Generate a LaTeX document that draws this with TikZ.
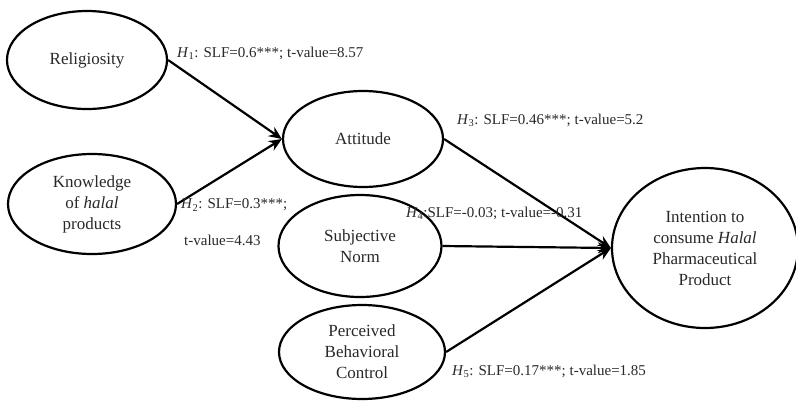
\documentclass[tikz,border=0pt]{standalone}
\usepackage{fontspec}
\setmainfont{Liberation Serif}
\usepackage{xcolor}
\definecolor{txtgray}{RGB}{40,40,40}
\usepackage{tikz}
\usetikzlibrary{shapes.geometric,arrows.meta,positioning}

\begin{document}
\begin{tikzpicture}[x=1pt,y=-1pt,
    construct/.style={ellipse,draw=black,line width=2.2pt,inner sep=0pt,
      align=center,text=txtgray,font=\fontsize{17}{21}\selectfont},
    path/.style={line width=2.2pt,-{Stealth[length=13pt,width=11pt]}},
    slf/.style={anchor=west,inner sep=0pt,text=txtgray,font=\fontsize{15}{18}\selectfont}]
            % Canvas
            \useasboundingbox (0,0) rectangle (796,400);
            % Constructs
            \node[construct,minimum width=160pt,minimum height=98pt] (rel) at (87,60) {Religiosity};
            \node[construct,minimum width=168pt,minimum height=100pt] (know) at (92,204) {Knowledge\\of \textit{halal}\\products};
            \node[construct,minimum width=160pt,minimum height=96pt] (att) at (363,139) {Attitude};
            \node[construct,minimum width=163pt,minimum height=102pt] (sn) at (360,246) {Subjective\\Norm};
            \node[construct,minimum width=166pt,minimum height=94pt] (pbc) at (362,352) {Perceived\\Behavioral\\Control};
            \node[construct,minimum width=186pt,minimum height=160pt] (int) at (705,248) {Intention to\\consume \textit{Halal}\\Pharmaceutical\\Product};
            % Paths
            \draw[path] (rel.east) -- (att.west);
            \draw[path] (know.east) -- (att.west);
            \draw[path] (att.east) -- (int.west);
            \draw[path] (sn.east) -- (int.west);
            \draw[path] (pbc.east) -- (int.west);
            % Estimates
            \node[slf] (h1) at (177,53) {\textit{H}\textsubscript{1}: SLF=0.6***; t-value=8.57};
            \node[slf] (h2) at (181,205) {\textit{H}\textsubscript{2}: SLF=0.3***;};
            \node[slf] (h2t) at (184,240) {t-value=4.43};
            \node[slf] (h3) at (457,120) {\textit{H}\textsubscript{3}: SLF=0.46***; t-value=5.2};
            \node[slf] (h4) at (406,213) {\textit{H}\textsubscript{4}:SLF=-0.03; t-value=-0.31};
            \node[slf] (h5) at (452,371) {\textit{H}\textsubscript{5}: SLF=0.17***; t-value=1.85};
\end{tikzpicture}
\end{document}
